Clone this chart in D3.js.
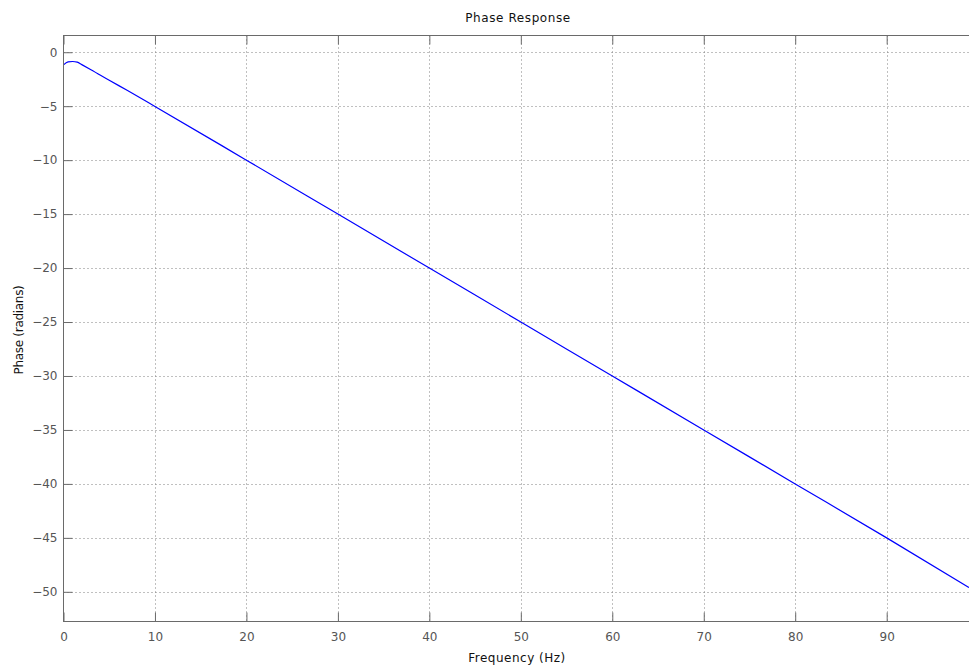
<!DOCTYPE html>
<html lang="en">
<head>
    <meta charset="UTF-8">
    <title>Phase Response</title>
    <style>
        body { margin: 0; background: #fff; overflow: hidden; }
        svg { display: block; }
        text { font-family: "DejaVu Sans", Arial, sans-serif; font-size: 12px; }
    </style>
</head>
<body>
    <svg id="chart" width="969" height="670"></svg>
    <script src="https://cdnjs.cloudflare.com/ajax/libs/d3/7.8.5/d3.min.js"></script>
    <script>
        // data
        const freqHz = [0, 0.5, 1, 1.5, 2, 3, 5, 7, 10, 20, 30, 40, 50, 60, 70, 80, 90, 99];
        const phaseRad = [-1.17, -0.9, -0.86, -0.92, -1.15, -1.62, -2.6, -3.55, -5.02, -10, -15, -20, -25, -30, -35, -40, -45, -49.6];
        const xTicks = [0, 10, 20, 30, 40, 50, 60, 70, 80, 90];
        const yTicks = [0, -5, -10, -15, -20, -25, -30, -35, -40, -45, -50];

        const plotL = 63.5, plotR = 969, plotT = 35.5, plotB = 621.5;
        const svg = d3.select("#chart");

        const x = d3.scaleLinear().domain([0, 99]).range([plotL, plotR]);
        const y = d3.scaleLinear().domain([-52.75, 1.55]).range([plotB, plotT]);

        // dotted grid
        const grid = svg.append("g").attr("stroke", "#808080").attr("stroke-width", 1)
            .attr("stroke-dasharray", "1,3");
        grid.selectAll(".gx").data(xTicks.filter(d => d > 0)).enter().append("line")
            .attr("x1", d => Math.round(x(d)) + 0.5).attr("x2", d => Math.round(x(d)) + 0.5)
            .attr("y1", plotT).attr("y2", plotB);
        grid.selectAll(".gy").data(yTicks).enter().append("line")
            .attr("y1", d => Math.round(y(d)) + 0.5).attr("y2", d => Math.round(y(d)) + 0.5)
            .attr("x1", plotL).attr("x2", plotR);

        // curve
        const pts = freqHz.map((f, i) => [f, phaseRad[i]]);
        svg.append("path").datum(pts)
            .attr("fill", "none").attr("stroke", "#0000ff").attr("stroke-width", 1.2)
            .attr("d", d3.line().x(d => x(d[0])).y(d => y(d[1])).curve(d3.curveMonotoneX));

        // axes (ticks inward on all sides)
        const tl = 9;
        const axColor = "#6a6a6a";
        const xb = svg.append("g").attr("transform", `translate(0,${plotB})`)
            .call(d3.axisBottom(x).tickValues(xTicks).tickSize(-tl).tickPadding(11));
        const xt = svg.append("g").attr("transform", `translate(0,${plotT})`)
            .call(d3.axisTop(x).tickValues(xTicks).tickSize(-tl).tickFormat(""));
        const yl = svg.append("g").attr("transform", `translate(${plotL},0)`)
            .call(d3.axisLeft(y).tickValues(yTicks).tickSize(-tl).tickPadding(6));
        [xb, xt, yl].forEach(g => {
            g.select(".domain").remove();
            g.selectAll(".tick line").attr("stroke", axColor);
            g.selectAll("text").attr("fill", "#555").style("font-size", "12px")
                .style("font-family", '"DejaVu Sans", Arial, sans-serif');
        });
        svg.append("rect").attr("x", plotL).attr("y", plotT)
            .attr("width", plotR - plotL + 1).attr("height", plotB - plotT)
            .attr("fill", "none").attr("stroke", axColor);

        // titles
        svg.append("text").attr("x", 518).attr("y", 22).attr("text-anchor", "middle")
            .attr("fill", "#111").style("letter-spacing", "0.6px").text("Phase Response");
        svg.append("text").attr("x", 517).attr("y", 662).attr("text-anchor", "middle")
            .attr("fill", "#111").style("letter-spacing", "0.5px").text("Frequency (Hz)");
        svg.append("text").attr("transform", "translate(23,330) rotate(-90)")
            .attr("text-anchor", "middle").attr("fill", "#111")
            .style("letter-spacing", "-0.3px").text("Phase (radians)");
    </script>
</body>
</html>
